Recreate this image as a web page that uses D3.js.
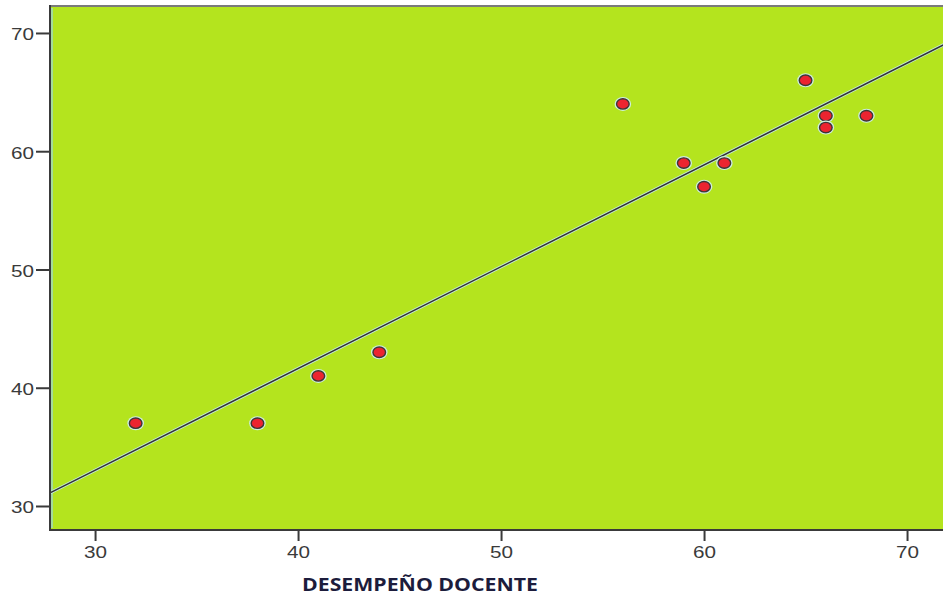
<!DOCTYPE html>
<html><head><meta charset="utf-8">
<script src="https://cdn.jsdelivr.net/npm/d3@7"></script>
<style>body{margin:0;background:#fff}svg{display:block}</style>
</head><body>
<svg id="c" width="943" height="595"></svg>
<script>
const xValues = [32, 38, 41, 44, 56, 59, 60, 61, 65, 66, 66, 68];
const yValues = [37, 37, 41, 43, 64, 59, 57, 59, 66, 63, 62, 63];
const xTicks = [30, 40, 50, 60, 70];
const yTicks = [30, 40, 50, 60, 70];
const xLabel = "DESEMPEÑO DOCENTE";

(function () {
const svg = d3.select("#c");
const pLeft = 50, pRight = 945, pTop = 6, pBottom = 530;
const x = d3.scaleLinear().domain([27.78, 71.87]).range([pLeft, pRight]);
const y = d3.scaleLinear().domain([72.28, 27.97]).range([pTop, pBottom]);

svg.append("rect").attr("x", pLeft).attr("y", pTop).attr("width", pRight - pLeft).attr("height", pBottom - pTop).attr("fill", "#b4e41e");
svg.append("line").attr("x1", pLeft + 2).attr("x2", pLeft + 2).attr("y1", pTop + 2).attr("y2", pBottom - 2).attr("stroke", "#9fd9c8").attr("stroke-width", 1.5);

// regression line (least squares from data)
const n = xValues.length;
const mx = d3.mean(xValues), my = d3.mean(yValues);
let sxy = 0, sxx = 0;
for (let i = 0; i < n; i++) { sxy += (xValues[i] - mx) * (yValues[i] - my); sxx += (xValues[i] - mx) ** 2; }
const b = sxy / sxx, a = my - b * mx;
const xd = x.domain();
const lineG = svg.append("g");
lineG.append("line").attr("x1", x(xd[0])).attr("y1", y(a + b * xd[0])).attr("x2", x(xd[1])).attr("y2", y(a + b * xd[1]))
  .attr("stroke", "#c4ecdc").attr("stroke-width", 3.2);
lineG.append("line").attr("x1", x(xd[0])).attr("y1", y(a + b * xd[0])).attr("x2", x(xd[1])).attr("y2", y(a + b * xd[1]))
  .attr("stroke", "#333333").attr("stroke-width", 1.5);

const pts = svg.append("g").selectAll("g").data(xValues.map((v, i) => [v, yValues[i]])).join("g");
pts.append("ellipse").attr("cx", d => x(d[0])).attr("cy", d => y(d[1])).attr("rx", 8.3).attr("ry", 7).attr("fill", "#cdeee0");
pts.append("ellipse").attr("cx", d => x(d[0])).attr("cy", d => y(d[1])).attr("rx", 6.3).attr("ry", 5.2)
  .attr("fill", "#ec2430").attr("stroke", "#3d3535").attr("stroke-width", 1.4);

svg.append("line").attr("x1", pLeft).attr("x2", pRight).attr("y1", pTop).attr("y2", pTop).attr("stroke", "#7a7a7a").attr("stroke-width", 2);
svg.append("line").attr("x1", pLeft).attr("x2", pLeft).attr("y1", pTop - 1).attr("y2", pBottom + 1).attr("stroke", "#3a3a3a").attr("stroke-width", 2);
svg.append("line").attr("x1", pLeft - 1).attr("x2", pRight).attr("y1", pBottom).attr("y2", pBottom).attr("stroke", "#3a3a3a").attr("stroke-width", 2);

const xAxis = d3.axisBottom(x).tickValues(xTicks).tickSize(10).tickPadding(5);
const gx = svg.append("g").attr("transform", `translate(0,${pBottom + 1})`).call(xAxis);
const yAxis = d3.axisLeft(y).tickValues(yTicks).tickSize(13).tickPadding(2);
const gy = svg.append("g").attr("transform", `translate(${pLeft - 1},0)`).call(yAxis);
[gx, gy].forEach(g => {
  g.select(".domain").remove();
  g.selectAll(".tick line").attr("stroke", "#3a3a3a").attr("stroke-width", 2);
  g.selectAll(".tick text").attr("fill", "#3a3a3a").style("font-family", "'Liberation Sans', Arial, sans-serif").style("font-size", "16.5px")
    .attr("textLength", 23).attr("lengthAdjust", "spacingAndGlyphs");
});
gy.selectAll(".tick text").attr("dy", "0.42em");

svg.append("text").attr("x", 420).attr("y", 591).attr("text-anchor", "middle")
  .style("font-family", "'Open Sans', 'Liberation Sans', sans-serif").style("font-weight", "bold").style("font-size", "17px")
  .attr("textLength", 236).attr("lengthAdjust", "spacingAndGlyphs")
  .attr("fill", "#1c1c3c").text(xLabel);
})();
</script>
</body></html>
